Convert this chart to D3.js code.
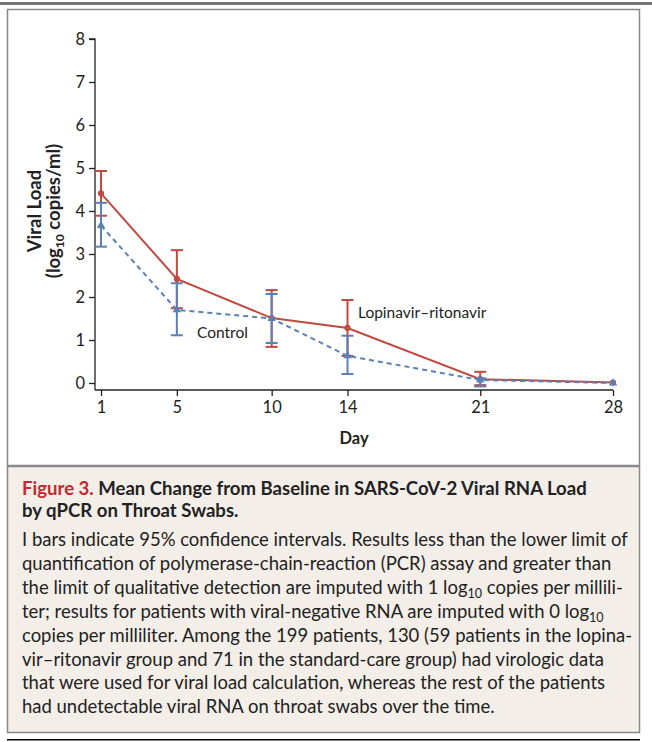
<!DOCTYPE html>
<html>
<head>
<meta charset="utf-8">
<script src="https://cdn.jsdelivr.net/npm/d3@7"></script>
<style>
  body { margin: 0; background: #fff; }
  svg text { font-family: "Lato", "Open Sans", sans-serif; }
</style>
</head>
<body>
<script>
// data
var days = [1, 5, 10, 14, 21, 28];
var dayTicks = [1, 5, 10, 14, 21, 28];
var loadTicks = [0, 1, 2, 3, 4, 5, 6, 7, 8];
var lopMean = [4.41, 2.42, 1.51, 1.28, 0.09, 0.01];
var lopLow  = [3.89, 1.74, 0.84, 0.63, -0.05, 0.0];
var lopHigh = [4.93, 3.09, 2.16, 1.93, 0.26, 0.02];
var ctlMean = [3.66, 1.70, 1.50, 0.63, 0.07, 0.0];
var ctlLow  = [3.17, 1.11, 0.93, 0.21, -0.08, 0.0];
var ctlHigh = [4.19, 2.32, 2.07, 1.10, 0.11, 0.0];

var captionTitle = ["Mean Change from Baseline in SARS-CoV-2 Viral RNA Load", "by qPCR on Throat Swabs."];
var captionBody = [
  "I bars indicate 95% confidence intervals. Results less than the lower limit of",
  "quantification of polymerase-chain-reaction (PCR) assay and greater than",
  "the limit of qualitative detection are imputed with 1 log|10| copies per millili-",
  "ter; results for patients with viral-negative RNA are imputed with 0 log|10|",
  "copies per milliliter. Among the 199 patients, 130 (59 patients in the lopina-",
  "vir\u2013ritonavir group and 71 in the standard-care group) had virologic data",
  "that were used for viral load calculation, whereas the rest of the patients",
  "had undetectable viral RNA on throat swabs over the time."
];

var W = 652, H = 742;
var red = "#bf4a40", blue = "#5b80b8";

var svg = d3.select("body").append("svg").attr("width", W).attr("height", H);

// frames
svg.append("rect").attr("x", 0).attr("y", 2).attr("width", W).attr("height", 3).attr("fill", "#777");
svg.append("rect").attr("x", 7.5).attr("y", 9.5).attr("width", 632).attr("height", 456)
  .attr("fill", "#fff").attr("stroke", "#888").attr("stroke-width", 1.5);
svg.append("rect").attr("x", 7.5).attr("y", 466.5).attr("width", 632).attr("height", 266)
  .attr("fill", "#f4eee8").attr("stroke", "#888").attr("stroke-width", 1.5);
svg.append("rect").attr("x", 7).attr("y", 739).attr("width", 633).attr("height", 1.5).attr("fill", "#000");

var x = d3.scaleLinear().domain([1, 28]).range([101, 613]);
var y = d3.scaleLinear().domain([0, 8]).range([383, 39]);

// axes
var yAxis = svg.append("g").attr("transform", "translate(95,0)")
  .call(d3.axisLeft(y).tickValues(loadTicks).tickSize(6).tickPadding(4));
yAxis.select(".domain").attr("d", "M-6," + y(8) + "H0V390");
var xAxis = svg.append("g").attr("transform", "translate(0,390)")
  .call(d3.axisBottom(x).tickValues(dayTicks).tickSize(6).tickPadding(5));
xAxis.select(".domain").attr("d", "M95,0H" + x(28));
svg.selectAll(".tick text").attr("font-size", 16.5).attr("fill", "#222")
  .attr("font-family", "'Liberation Sans Narrow', 'Open Sans', sans-serif");
svg.selectAll(".domain, .tick line").attr("stroke", "#222").attr("stroke-width", 1.3);

// axis titles
svg.append("text").attr("x", 354).attr("y", 444).attr("text-anchor", "middle")
  .attr("font-size", 16.5).attr("font-weight", "bold").attr("fill", "#222").text("Day");
var yl = svg.append("g").attr("transform", "translate(0,211) rotate(-90)").attr("fill", "#222");
yl.append("text").attr("x", 0).attr("y", 41).attr("text-anchor", "middle")
  .attr("font-size", 18.5).attr("font-weight", "bold").text("Viral Load");
var yl2 = yl.append("text").attr("x", 0).attr("y", 60).attr("text-anchor", "middle")
  .attr("font-size", 18.5).attr("font-weight", "bold");
yl2.append("tspan").text("(log");
yl2.append("tspan").attr("font-size", 12).attr("dy", 4).text("10");
yl2.append("tspan").attr("dy", -4).text(" copies/ml)");

function drawSeries(mean, lo, hi, color, dash, marker) {
  var pts = days.map(function(d, i) { return { d: d, m: mean[i], lo: lo[i], hi: hi[i] }; });
  var g = svg.append("g");
  g.append("path").datum(pts)
    .attr("d", d3.line().x(function(p) { return x(p.d); }).y(function(p) { return y(p.m); }))
    .attr("fill", "none").attr("stroke", color).attr("stroke-width", 2)
    .attr("stroke-dasharray", dash);
  var eb = g.selectAll(".eb").data(pts.filter(function(p) { return p.hi - p.lo > 0.05; }))
    .enter().append("g").attr("stroke", color).attr("stroke-width", 2);
  eb.append("line").attr("x1", function(p) { return x(p.d); }).attr("x2", function(p) { return x(p.d); })
    .attr("y1", function(p) { return y(p.lo); }).attr("y2", function(p) { return y(p.hi); });
  [ "lo", "hi" ].forEach(function(k) {
    eb.append("line").attr("x1", function(p) { return x(p.d) - 6; }).attr("x2", function(p) { return x(p.d) + 6; })
      .attr("y1", function(p) { return y(p[k]); }).attr("y2", function(p) { return y(p[k]); });
  });
  g.selectAll(".mk").data(pts).enter().append("path")
    .attr("transform", function(p) { return "translate(" + x(p.d) + "," + y(p.m) + ")"; })
    .attr("d", d3.symbol().type(marker).size(30))
    .attr("fill", color);
}
drawSeries(lopMean, lopLow, lopHigh, red, null, d3.symbolCircle);
drawSeries(ctlMean, ctlLow, ctlHigh, blue, "5,4", d3.symbolTriangle);

svg.append("text").attr("x", 358).attr("y", 318).attr("font-size", 15.5).attr("fill", "#222")
  .text("Lopinavir\u2013ritonavir");
svg.append("text").attr("x", 197).attr("y", 338).attr("font-size", 15.5).attr("fill", "#222")
  .text("Control");

// caption
var t1 = svg.append("text").attr("x", 22).attr("y", 495).attr("font-size", 17).attr("font-weight", "bold");
t1.append("tspan").attr("fill", "#c8262e").text("Figure 3. ");
t1.append("tspan").attr("fill", "#222").text(captionTitle[0]);
svg.append("text").attr("x", 22).attr("y", 517).attr("font-size", 17).attr("font-weight", "bold")
  .attr("fill", "#222").text(captionTitle[1]);

var body = svg.append("g").attr("fill", "#222");
captionBody.forEach(function(line, i) {
  var t = body.append("text").attr("x", 22).attr("y", 546 + i * 23.9).attr("font-size", 16.5);
  line.split("|").forEach(function(part, j) {
    if (j % 2 === 1) {
      t.append("tspan").attr("font-size", 11).attr("dy", 4).text(part);
    } else {
      t.append("tspan").attr("dy", j > 0 ? -4 : 0).text(part);
    }
  });
});
// scale the body text so the first line spans the box like the original
var w0 = body.select("text").node().getComputedTextLength();
var fs = 16.5 * 606 / w0;
body.selectAll("text").attr("font-size", fs);
body.selectAll("tspan").filter(function() { return d3.select(this).attr("font-size"); })
  .attr("font-size", fs * 0.68);
var wt = t1.node().getComputedTextLength();
var ft = 17 * 565 / wt;
t1.attr("font-size", ft);
svg.selectAll("text").filter(function() { return this.textContent === captionTitle[1]; }).attr("font-size", ft);
</script>
</body>
</html>
